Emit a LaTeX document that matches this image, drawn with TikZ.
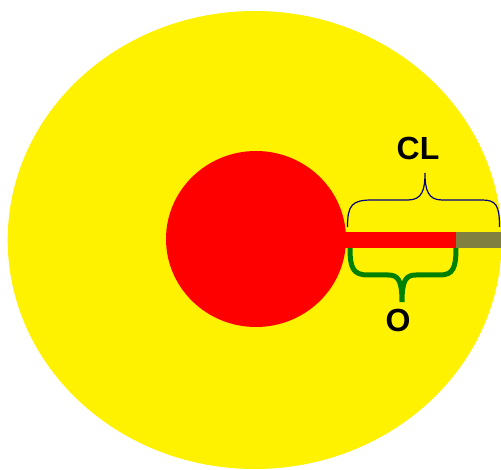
\documentclass[tikz,border=0pt]{standalone}
\usepackage{fontspec}
\setmainfont{Liberation Sans}
\definecolor{olivebar}{HTML}{808040}
\definecolor{bracegreen}{HTML}{008000}
\definecolor{braceblue}{HTML}{000080}
\tikzset{
  lbl/.style={font=\bfseries\fontsize{32}{32}\selectfont, text=black, inner sep=0pt},
}
\begin{document}
\begin{tikzpicture}[x=1pt,y=-1pt]
\useasboundingbox (0,0) rectangle (501,470);
\clip (0,0) rectangle (501,470);
% outer yellow disc
\fill[yellow] (254.7,240) ellipse [x radius=247pt, y radius=229pt];
% inner red disc
\fill[red] (256,239) ellipse [x radius=90pt, y radius=88pt];
% bar
\fill[red] (345,232) rectangle (456,248);
\fill[olivebar] (456,232) rectangle (501,248);
% blue brace (CL)
\draw[braceblue, line width=1.2pt]
  (347.5,227) .. controls (347.5,205) and (352,200) .. (372,200)
  -- (408,200) .. controls (422,200) and (425,190) .. (425,173)
  .. controls (425,190) and (428,200) .. (442,200)
  -- (482,200) .. controls (496,200) and (499.5,205) .. (499.5,227);
% green brace (O)
\draw[bracegreen, line width=5pt]
  (350,248) .. controls (350,268) and (353,275) .. (368,275)
  -- (388,275) .. controls (398,275) and (402,280) .. (402,302)
  .. controls (402,280) and (406,275) .. (416,275)
  -- (440,275) .. controls (453,275) and (456,268) .. (456,248);
% labels
\node[lbl] (cl) at (418,148) {CL};
\node[lbl] (o) at (398,320) {O};
\end{tikzpicture}
\end{document}
